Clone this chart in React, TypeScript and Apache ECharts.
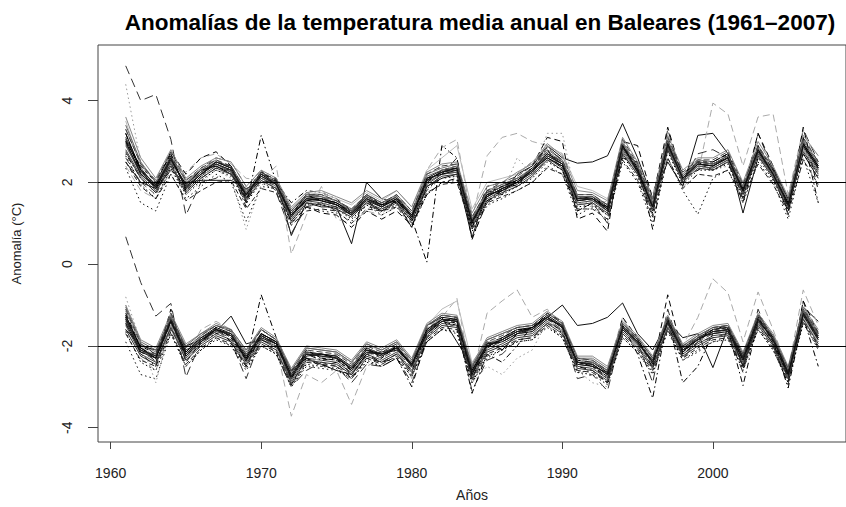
import React, { useEffect, useRef } from 'react';
import * as echarts from 'echarts';

const YEARS = [
  1961, 1962, 1963, 1964, 1965, 1966, 1967, 1968, 1969, 1970,
  1971, 1972, 1973, 1974, 1975, 1976, 1977, 1978, 1979, 1980,
  1981, 1982, 1983, 1984, 1985, 1986, 1987, 1988, 1989, 1990,
  1991, 1992, 1993, 1994, 1995, 1996, 1997, 1998, 1999, 2000,
  2001, 2002, 2003, 2004, 2005, 2006, 2007,
];

// Upper group (series plotted around +2)
const T1 = [3.05,2.3,1.95,2.6,1.9,2.25,2.5,2.35,1.75,2.2, 2.0,1.25,1.65,1.6,1.5,1.3,1.65,1.45,1.65,1.2, 2.1,2.3,2.35,1.1,1.7,1.9,2.05,2.3,2.7,2.5, 1.65,1.65,1.4,2.9,2.35,1.45,2.95,2.15,2.5,2.45, 2.65,1.85,2.8,2.25,1.5,2.95,2.4];
const T2 = [2.8,2.15,1.8,2.45,1.8,2.15,2.4,2.25,1.6,2.1, 1.9,1.1,1.55,1.5,1.4,1.2,1.5,1.35,1.55,1.1, 1.95,2.2,2.25,0.95,1.6,1.8,1.95,2.2,2.6,2.35, 1.5,1.55,1.3,2.75,2.25,1.35,2.85,2.05,2.4,2.35, 2.55,1.75,2.7,2.15,1.4,2.8,2.25];
const T3 = [3.3,2.45,2.0,2.7,2.0,2.3,2.5,2.4,1.8,2.25, 2.05,1.35,1.7,1.7,1.55,1.35,1.7,1.5,1.7,1.3, 2.2,2.35,2.45,1.15,1.8,1.95,2.1,2.35,2.8,2.55, 1.7,1.7,1.45,3.0,2.4,1.5,3.05,2.2,2.55,2.5, 2.7,1.9,2.9,2.3,1.55,3.05,2.5];
const T4 = [2.5,2.0,1.85,2.3,2.0,2.05,2.05,2.05,1.85,2.0, 2.05,0.7,1.5,1.4,1.4,0.5,2.0,1.6,1.5,0.9, 1.9,2.1,2.2,0.65,1.8,1.7,2.2,2.4,2.9,2.6, 2.47,2.5,2.65,3.44,2.6,1.6,2.5,1.9,3.15,3.2, 2.7,1.25,2.6,2.35,1.6,2.7,2.1];
const T5 = [4.85,4.0,4.15,3.05,1.2,2.0,2.1,2.4,1.55,2.3, 1.75,0.75,1.4,1.5,1.3,1.25,1.4,1.35,1.5,1.2, 1.8,2.2,2.6,0.65,1.5,1.85,2.05,2.3,2.9,2.5, 1.3,1.5,1.0,2.7,2.2,1.2,3.3,2.0,2.7,2.8, 2.6,1.6,3.2,2.3,1.2,3.3,2.5];
const T6 = [2.4,1.8,1.6,2.3,2.25,2.6,2.7,2.45,2.1,2.05, 2.4,0.25,1.2,1.9,1.1,1.0,1.3,1.2,1.4,1.2, 2.3,2.85,3.05,1.1,2.65,3.1,3.2,3.0,2.9,2.7, 1.5,1.4,1.55,3.0,2.3,1.7,3.1,1.9,2.2,3.94, 3.67,2.4,3.6,3.67,1.7,3.3,2.3];
const T7 = [2.35,1.5,1.3,2.2,1.6,1.9,2.2,2.0,1.05,1.9, 1.85,1.0,1.4,1.3,1.25,1.05,1.45,1.2,1.4,0.9, 1.7,2.0,2.05,0.8,1.45,1.6,1.8,2.0,2.4,2.2, 1.2,1.4,1.05,2.5,2.0,1.0,2.6,1.8,1.22,2.1, 2.3,1.5,2.5,2.0,1.1,2.6,1.5];
const T8 = [2.7,2.1,1.75,2.5,1.75,2.1,2.35,2.3,1.4,3.15, 2.0,1.5,1.8,1.75,1.6,1.3,1.55,1.3,1.55,1.1, 0.05,2.9,2.6,0.6,1.55,1.8,2.2,2.5,2.8,2.3, 1.3,1.5,1.2,2.6,2.5,0.85,3.0,2.2,2.5,2.3, 2.5,1.5,2.9,2.1,1.3,3.1,1.5];
const T9 = [3.2,2.2,1.95,2.75,2.2,2.6,2.75,2.4,1.5,2.2, 2.1,1.0,1.4,1.25,1.2,0.9,1.3,1.1,1.3,0.95, 1.7,2.0,2.1,0.9,1.9,2.0,1.9,2.4,3.1,3.0, 1.1,1.25,0.8,3.0,2.9,1.6,3.35,2.1,2.3,2.5, 2.7,1.75,3.2,2.4,1.35,3.35,1.8];
const T10 = [3.5,2.4,2.05,2.5,1.95,2.2,2.3,2.2,1.7,2.0, 1.9,1.3,1.7,1.75,1.6,1.45,1.75,1.55,1.8,1.4, 2.3,2.6,2.9,1.35,2.0,2.1,2.2,2.5,2.9,2.7, 1.9,1.8,1.6,2.8,2.2,1.4,2.75,2.2,2.4,2.45, 2.5,2.0,2.6,2.2,1.5,2.8,2.3];
const T11 = [4.4,2.5,1.6,2.3,1.7,2.0,2.3,2.1,0.85,1.95, 1.9,1.1,1.5,1.5,1.35,1.15,1.5,1.25,1.45,1.05, 1.8,2.1,2.15,0.95,1.4,1.7,2.6,2.2,3.2,3.2, 1.5,1.5,1.3,2.7,2.1,1.3,2.8,2.0,2.4,2.3, 2.4,1.7,2.7,2.1,1.45,2.8,2.2];
const T12 = [2.6,2.0,1.7,2.4,1.85,2.35,2.6,2.5,1.9,2.3, 1.85,1.15,1.75,1.65,1.5,1.3,1.55,1.45,1.7,1.15, 2.0,2.3,2.3,1.0,1.7,1.9,2.1,2.2,2.55,2.4, 1.55,1.6,1.3,2.9,2.4,1.45,2.9,2.05,2.45,2.4, 2.6,1.75,2.8,2.25,1.45,2.9,2.45];
const T13 = [3.1,2.35,1.9,2.65,1.85,2.2,2.45,2.3,1.65,2.15, 1.95,1.15,1.6,1.55,1.45,1.2,1.6,1.4,1.6,1.15, 2.05,2.25,2.35,1.0,1.65,1.85,2.0,2.25,2.65,2.45, 1.55,1.6,1.3,2.85,2.3,1.4,2.9,2.1,2.45,2.4, 2.6,1.8,2.75,2.2,1.45,2.9,2.35];
const T14 = [2.9,2.2,1.85,2.5,1.95,2.25,2.45,2.25,1.7,2.1, 1.95,1.25,1.65,1.65,1.45,1.25,1.65,1.45,1.6,1.2, 2.0,2.2,2.25,1.1,1.7,1.9,2.0,2.3,2.6,2.4, 1.65,1.55,1.4,2.8,2.25,1.45,2.85,2.1,2.4,2.35, 2.55,1.85,2.7,2.15,1.5,2.85,2.3];
const T15 = [3.6,2.6,2.1,2.8,2.1,2.4,2.6,2.5,1.9,2.3, 2.1,1.4,1.75,1.8,1.65,1.5,1.8,1.6,1.8,1.4, 2.25,2.45,2.5,1.25,1.9,2.0,2.25,2.45,2.95,2.65, 1.8,1.75,1.55,3.1,2.5,1.6,3.15,2.3,2.6,2.6, 2.8,2.0,3.0,2.4,1.65,3.15,2.65];
const T16 = [2.5,1.9,1.6,2.2,1.55,1.8,2.0,2.05,1.35,1.85, 1.75,0.95,1.3,1.35,1.3,1.0,1.35,1.3,1.4,1.0, 1.75,1.95,2.0,0.85,1.5,1.65,1.8,2.0,2.35,2.2, 1.35,1.35,1.1,2.55,2.05,1.15,2.6,1.85,2.2,2.15, 2.3,1.6,2.45,1.95,1.25,2.55,1.95];
const T17 = [3.2,2.3,1.85,2.55,1.95,2.3,2.4,2.2,1.7,2.2, 2.0,1.2,1.55,1.6,1.5,1.25,1.6,1.45,1.55,1.2, 2.1,2.2,2.3,1.05,1.7,1.8,2.0,2.3,2.6,2.4, 1.6,1.65,1.35,2.9,2.25,1.4,2.95,2.15,2.5,2.45, 2.6,1.8,2.8,2.2,1.5,2.95,2.4];
const T18 = [2.75,2.1,1.75,2.4,1.75,2.1,2.35,2.2,1.55,2.05, 1.85,1.05,1.5,1.45,1.35,1.15,1.5,1.3,1.5,1.05, 1.9,2.15,2.2,0.9,1.55,1.75,1.9,2.15,2.55,2.3, 1.45,1.5,1.25,2.7,2.2,1.3,2.8,2.0,2.35,2.3, 2.5,1.7,2.65,2.1,1.35,2.75,2.2];
const T19 = [3.0,2.4,2.0,2.7,1.8,2.15,2.5,2.4,1.6,2.25, 2.0,1.2,1.7,1.55,1.45,1.3,1.7,1.45,1.65,1.15, 2.0,2.3,2.4,1.0,1.75,1.9,2.05,2.35,2.75,2.5, 1.6,1.6,1.4,2.95,2.35,1.5,3.0,2.1,2.5,2.5, 2.7,1.85,2.85,2.3,1.45,3.0,2.45];
const T20 = [2.95,2.25,1.9,2.55,1.9,2.2,2.45,2.3,1.7,2.15, 1.95,1.2,1.6,1.6,1.45,1.25,1.6,1.4,1.6,1.15, 2.05,2.25,2.3,1.05,1.65,1.85,2.0,2.25,2.65,2.45, 1.6,1.6,1.35,2.85,2.3,1.4,2.9,2.1,2.45,2.4, 2.6,1.8,2.75,2.2,1.45,2.9,2.35];
const T21 = [3.4,2.5,2.0,2.6,2.05,2.3,2.55,2.35,1.75,2.2, 2.0,1.3,1.7,1.65,1.55,1.3,1.7,1.5,1.65,1.25, 2.15,2.3,2.4,1.1,1.75,1.95,2.1,2.3,2.75,2.5, 1.65,1.65,1.45,2.95,2.4,1.5,3.0,2.15,2.5,2.45, 2.65,1.9,2.85,2.25,1.55,3.0,2.45];
const T22 = [2.65,1.95,1.6,2.35,1.7,2.05,2.3,2.15,1.5,2.0, 1.8,1.05,1.45,1.45,1.35,1.1,1.45,1.3,1.45,1.05, 1.85,2.1,2.15,0.9,1.55,1.7,1.9,2.1,2.5,2.3, 1.4,1.45,1.2,2.65,2.15,1.25,2.75,1.95,2.3,2.3, 2.45,1.65,2.6,2.05,1.3,2.7,2.15];
const T23 = [3.0,2.2,1.9,2.6,1.85,2.2,2.5,2.35,1.7,2.2, 1.95,1.2,1.6,1.55,1.45,1.2,1.55,1.4,1.6,1.15, 2.05,2.25,2.35,1.05,1.65,1.85,2.0,2.3,2.7,2.45, 1.55,1.6,1.35,2.9,2.3,1.4,2.95,2.1,2.45,2.4, 2.6,1.8,2.8,2.2,1.45,2.9,2.35];
const T24 = [3.3,2.45,2.05,2.75,2.05,2.35,2.55,2.4,1.8,2.25, 2.05,1.3,1.7,1.7,1.55,1.35,1.7,1.5,1.7,1.3, 2.2,2.4,2.45,1.15,1.8,2.0,2.15,2.4,2.85,2.55, 1.7,1.7,1.45,3.05,2.45,1.55,3.1,2.25,2.55,2.55, 2.75,1.95,2.9,2.35,1.55,3.1,2.5];

// Lower group (series plotted around -2)
const B1 = [-1.3,-2.05,-2.25,-1.35,-2.15,-1.8,-1.55,-1.7,-2.25,-1.7, -1.9,-2.7,-2.15,-2.2,-2.25,-2.5,-2.05,-2.2,-2.0,-2.45, -1.6,-1.3,-1.35,-2.6,-1.95,-1.8,-1.6,-1.55,-1.25,-1.5, -2.35,-2.4,-2.65,-1.5,-1.85,-2.35,-1.35,-2.05,-1.8,-1.6, -1.55,-2.25,-1.3,-1.8,-2.6,-1.15,-1.75];
const B2 = [-1.5,-2.2,-2.4,-1.5,-2.3,-1.95,-1.7,-1.85,-2.4,-1.85, -2.05,-2.85,-2.3,-2.35,-2.4,-2.65,-2.2,-2.35,-2.15,-2.6, -1.75,-1.45,-1.5,-2.75,-2.1,-1.95,-1.75,-1.7,-1.4,-1.65, -2.5,-2.55,-2.8,-1.65,-2.0,-2.5,-1.5,-2.2,-1.95,-1.75, -1.7,-2.4,-1.45,-1.95,-2.75,-1.3,-1.9];
const B3 = [-1.15,-1.95,-2.15,-1.25,-2.05,-1.75,-1.5,-1.65,-2.15,-1.6, -1.85,-2.6,-2.05,-2.1,-2.15,-2.4,-1.95,-2.1,-1.9,-2.35, -1.5,-1.25,-1.3,-2.5,-1.85,-1.7,-1.55,-1.5,-1.2,-1.45, -2.3,-2.3,-2.55,-1.45,-1.8,-2.3,-1.3,-2.0,-1.75,-1.55, -1.5,-2.2,-1.25,-1.75,-2.55,-1.1,-1.65];
const B4 = [-1.6,-2.0,-2.1,-1.6,-2.0,-1.85,-1.65,-1.27,-1.95,-1.85, -2.0,-2.6,-2.3,-2.45,-2.6,-2.7,-2.2,-2.15,-2.05,-2.4, -1.5,-1.3,-1.9,-2.5,-1.9,-2.1,-1.7,-1.55,-1.3,-1.0, -1.5,-1.45,-1.3,-0.95,-1.7,-2.1,-1.4,-1.8,-1.7,-2.53, -1.55,-2.5,-1.4,-1.95,-2.7,-1.05,-1.4];
const B5 = [0.67,-0.45,-1.27,-0.96,-2.76,-1.9,-1.6,-1.9,-2.8,-1.8, -2.2,-3.0,-2.6,-2.4,-2.5,-2.9,-2.45,-2.5,-2.3,-2.9, -1.9,-1.6,-1.45,-3.1,-2.35,-2.2,-1.85,-1.8,-1.45,-1.6, -2.8,-2.7,-3.1,-1.6,-1.9,-2.9,-1.1,-2.3,-1.9,-1.8, -1.7,-2.65,-1.1,-2.0,-2.95,-0.9,-2.1];
const B6 = [-1.0,-2.3,-2.6,-1.6,-2.3,-1.6,-1.4,-1.6,-2.5,-1.8, -2.0,-3.72,-2.7,-2.9,-2.6,-3.43,-2.5,-2.3,-2.0,-2.8, -1.6,-1.3,-0.84,-2.8,-1.2,-0.9,-0.63,-1.3,-1.1,-1.5, -2.3,-2.4,-2.6,-1.3,-2.0,-2.3,-1.3,-2.0,-1.3,-0.36, -0.7,-1.9,-0.68,-1.6,-2.6,-0.63,-1.5];
const B7 = [-1.9,-2.7,-2.81,-1.7,-2.5,-2.1,-1.8,-2.0,-2.6,-2.0, -2.2,-3.0,-2.5,-2.55,-2.6,-2.8,-2.4,-2.5,-2.3,-2.75, -1.9,-1.6,-1.7,-2.9,-2.3,-2.1,-1.9,-1.85,-1.5,-1.8, -2.65,-2.6,-2.9,-1.8,-2.15,-2.7,-1.6,-2.35,-2.15,-1.9, -1.8,-2.6,-1.6,-2.1,-2.9,-1.4,-2.1];
const B8 = [-1.3,-2.2,-2.5,-1.3,-2.1,-1.9,-1.7,-1.6,-2.4,-0.75, -1.8,-2.6,-2.2,-2.35,-2.3,-2.7,-2.2,-2.4,-2.3,-3.0, -1.8,-1.4,-1.5,-3.16,-2.2,-2.4,-2.0,-1.5,-1.3,-1.7, -2.4,-2.5,-2.8,-1.5,-2.2,-3.28,-1.3,-2.9,-2.5,-1.7, -1.6,-2.97,-1.4,-1.9,-3.03,-1.3,-2.5];
const B9 = [-1.2,-2.0,-2.4,-1.1,-2.4,-1.9,-1.55,-1.9,-2.5,-1.7, -1.95,-2.95,-2.3,-2.5,-2.4,-2.8,-2.3,-2.4,-2.2,-2.6, -1.7,-1.4,-1.3,-2.8,-2.0,-1.9,-1.7,-1.6,-1.2,-1.4, -2.5,-2.6,-2.9,-1.3,-1.8,-2.55,-0.75,-2.2,-1.9,-1.6, -1.5,-2.5,-1.2,-1.8,-2.8,-0.9,-1.7];
const B10 = [-1.1,-2.0,-2.3,-1.5,-2.2,-1.8,-1.6,-1.7,-2.2,-1.75, -1.95,-3.0,-2.4,-2.3,-2.2,-2.4,-2.0,-2.1,-1.95,-2.4, -1.5,-1.1,-0.9,-2.4,-1.9,-1.85,-1.6,-1.6,-1.35,-1.6, -2.3,-2.5,-2.7,-1.55,-1.8,-2.35,-1.5,-2.0,-1.8,-1.7, -1.6,-2.3,-1.4,-1.9,-2.6,-1.3,-1.9];
const B11 = [-0.8,-1.9,-2.9,-1.5,-2.2,-1.7,-1.55,-1.8,-2.4,-1.6, -1.9,-2.8,-2.4,-2.3,-2.35,-2.6,-2.15,-2.3,-2.1,-2.6, -1.7,-1.5,-1.5,-2.9,-2.5,-2.7,-2.3,-2.1,-1.4,-1.65, -2.6,-2.9,-3.0,-1.6,-1.95,-2.4,-1.5,-2.1,-1.9,-1.7, -1.6,-2.35,-1.35,-1.85,-2.65,-1.25,-1.85];
const B12 = [-1.45,-2.15,-2.35,-1.45,-2.25,-1.85,-1.65,-1.8,-2.35,-1.8, -2.0,-2.8,-2.2,-2.3,-2.35,-2.6,-2.15,-2.3,-2.1,-2.55, -1.7,-1.4,-1.45,-2.7,-2.05,-1.9,-1.7,-1.65,-1.35,-1.6, -2.45,-2.5,-2.75,-1.6,-1.95,-2.45,-1.45,-2.15,-1.9,-1.7, -1.65,-2.35,-1.4,-1.9,-2.7,-1.25,-1.85];
const B13 = [-1.4,-2.1,-2.3,-1.4,-2.2,-1.85,-1.6,-1.75,-2.3,-1.75, -1.95,-2.75,-2.2,-2.25,-2.3,-2.55,-2.1,-2.25,-2.05,-2.5, -1.65,-1.35,-1.4,-2.65,-2.0,-1.85,-1.65,-1.6,-1.3,-1.55, -2.4,-2.45,-2.7,-1.55,-1.9,-2.4,-1.4,-2.1,-1.85,-1.65, -1.6,-2.3,-1.35,-1.85,-2.65,-1.2,-1.8];
const B14 = [-1.25,-2.15,-2.2,-1.35,-2.1,-1.9,-1.65,-1.7,-2.2,-1.7, -1.9,-2.65,-2.15,-2.2,-2.3,-2.5,-2.05,-2.2,-2.0,-2.45, -1.65,-1.4,-1.35,-2.55,-1.95,-1.85,-1.6,-1.6,-1.3,-1.5, -2.4,-2.4,-2.6,-1.5,-1.9,-2.4,-1.35,-2.05,-1.85,-1.6, -1.55,-2.3,-1.3,-1.85,-2.6,-1.15,-1.75];
const B15 = [-1.0,-1.85,-2.05,-1.2,-1.95,-1.7,-1.45,-1.6,-2.1,-1.55, -1.8,-2.55,-2.0,-2.05,-2.1,-2.35,-1.9,-2.05,-1.85,-2.3, -1.45,-1.2,-1.25,-2.45,-1.8,-1.65,-1.5,-1.45,-1.15,-1.4, -2.25,-2.25,-2.5,-1.4,-1.75,-2.25,-1.25,-1.95,-1.7,-1.5, -1.45,-2.15,-1.2,-1.7,-2.5,-1.05,-1.6];
const B16 = [-1.7,-2.35,-2.5,-1.65,-2.45,-2.05,-1.8,-1.95,-2.5,-1.95, -2.15,-2.95,-2.4,-2.45,-2.5,-2.75,-2.3,-2.45,-2.25,-2.7, -1.85,-1.55,-1.6,-2.85,-2.2,-2.05,-1.85,-1.8,-1.5,-1.75, -2.6,-2.65,-2.9,-1.75,-2.1,-2.6,-1.6,-2.3,-2.05,-1.85, -1.8,-2.5,-1.55,-2.05,-2.85,-1.4,-2.0];
const B17 = [-1.25,-2.05,-2.3,-1.4,-2.15,-1.8,-1.6,-1.75,-2.3,-1.7, -1.9,-2.75,-2.2,-2.2,-2.3,-2.55,-2.1,-2.2,-2.05,-2.45, -1.6,-1.35,-1.4,-2.6,-2.0,-1.85,-1.65,-1.55,-1.3,-1.55, -2.4,-2.45,-2.7,-1.55,-1.9,-2.4,-1.4,-2.1,-1.85,-1.65, -1.6,-2.3,-1.35,-1.85,-2.65,-1.2,-1.8];
const B18 = [-1.6,-2.25,-2.45,-1.55,-2.35,-2.0,-1.75,-1.9,-2.45,-1.9, -2.1,-2.9,-2.35,-2.4,-2.45,-2.7,-2.25,-2.4,-2.2,-2.65, -1.8,-1.5,-1.55,-2.8,-2.15,-2.0,-1.8,-1.75,-1.45,-1.7, -2.55,-2.6,-2.85,-1.7,-2.05,-2.55,-1.55,-2.25,-2.0,-1.8, -1.75,-2.45,-1.5,-2.0,-2.8,-1.35,-1.95];
const B19 = [-1.35,-2.0,-2.2,-1.3,-2.25,-1.9,-1.55,-1.8,-2.35,-1.75, -1.95,-2.8,-2.1,-2.3,-2.35,-2.6,-2.05,-2.3,-2.0,-2.5, -1.7,-1.35,-1.45,-2.7,-2.05,-1.8,-1.6,-1.6,-1.3,-1.55, -2.4,-2.5,-2.75,-1.5,-1.85,-2.45,-1.35,-2.15,-1.85,-1.6, -1.55,-2.35,-1.3,-1.9,-2.7,-1.2,-1.8];
const B20 = [-1.35,-2.1,-2.25,-1.35,-2.2,-1.85,-1.6,-1.75,-2.25,-1.75, -1.95,-2.75,-2.2,-2.25,-2.3,-2.55,-2.1,-2.25,-2.05,-2.5, -1.65,-1.35,-1.4,-2.65,-2.0,-1.85,-1.65,-1.6,-1.3,-1.55, -2.4,-2.45,-2.7,-1.55,-1.9,-2.4,-1.4,-2.1,-1.85,-1.65, -1.6,-2.3,-1.35,-1.85,-2.65,-1.2,-1.8];
const B21 = [-1.05,-1.9,-2.1,-1.3,-2.0,-1.7,-1.5,-1.6,-2.1,-1.6, -1.85,-2.6,-2.05,-2.1,-2.15,-2.4,-1.95,-2.1,-1.9,-2.35, -1.5,-1.25,-1.3,-2.5,-1.85,-1.7,-1.55,-1.5,-1.2,-1.45, -2.3,-2.35,-2.6,-1.45,-1.8,-2.3,-1.3,-2.0,-1.75,-1.55, -1.5,-2.2,-1.25,-1.75,-2.55,-1.1,-1.7];
const B22 = [-1.65,-2.4,-2.6,-1.7,-2.5,-2.1,-1.85,-2.0,-2.55,-2.0, -2.2,-3.0,-2.45,-2.5,-2.55,-2.8,-2.35,-2.5,-2.3,-2.75, -1.9,-1.6,-1.65,-2.9,-2.25,-2.1,-1.9,-1.85,-1.55,-1.8, -2.65,-2.7,-2.95,-1.8,-2.15,-2.65,-1.65,-2.35,-2.1,-1.9, -1.85,-2.55,-1.6,-2.1,-2.9,-1.45,-2.05];
const B23 = [-1.45,-2.15,-2.3,-1.4,-2.25,-1.9,-1.6,-1.7,-2.35,-1.8, -1.95,-2.8,-2.25,-2.2,-2.25,-2.6,-2.15,-2.2,-2.1,-2.45, -1.7,-1.4,-1.35,-2.7,-1.95,-1.9,-1.7,-1.65,-1.35,-1.5, -2.45,-2.5,-2.65,-1.6,-1.95,-2.35,-1.45,-2.15,-1.8,-1.7, -1.65,-2.35,-1.4,-1.8,-2.7,-1.25,-1.85];
const B24 = [-1.1,-1.95,-2.2,-1.2,-2.1,-1.75,-1.5,-1.65,-2.2,-1.6, -1.85,-2.65,-2.1,-2.15,-2.2,-2.45,-2.0,-2.15,-1.95,-2.4, -1.55,-1.25,-1.3,-2.55,-1.9,-1.75,-1.55,-1.5,-1.2,-1.45, -2.3,-2.35,-2.6,-1.45,-1.8,-2.3,-1.3,-2.0,-1.8,-1.55, -1.5,-2.2,-1.25,-1.8,-2.55,-1.1,-1.7];

const TOP_SERIES = [T1, T2, T3, T4, T5, T6, T7, T8, T9, T10, T11, T12, T13, T14, T15, T16, T17, T18, T19, T20, T21, T22, T23, T24];
const BOTTOM_SERIES = [B1, B2, B3, B4, B5, B6, B7, B8, B9, B10, B11, B12, B13, B14, B15, B16, B17, B18, B19, B20, B21, B22, B23, B24];

const REF_LINES = [2, -2];
const X_TICKS = [1960, 1970, 1980, 1990, 2000];
const Y_TICKS = [-4, -2, 0, 2, 4];

const TITLE = 'Anomalías de la temperatura media anual en Baleares (1961–2007)';
const X_NAME = 'Años';
const Y_NAME = 'Anomalía (°C)';

// line styles (one per station index)
const STYLES: { color: string; type: any }[] = [
  { color: '#000000', type: 'solid' },
  { color: '#444444', type: 'solid' },
  { color: '#777777', type: 'solid' },
  { color: '#111111', type: 'solid' },
  { color: '#333333', type: [9, 5] },
  { color: '#aaaaaa', type: [7, 4] },
  { color: '#111111', type: [1.5, 3] },
  { color: '#000000', type: [1.5, 3, 6, 3] },
  { color: '#000000', type: [6, 4] },
  { color: '#bbbbbb', type: 'solid' },
  { color: '#999999', type: [1.5, 3] },
  { color: '#555555', type: [6, 4] },
  { color: '#222222', type: 'solid' },
  { color: '#555555', type: 'solid' },
  { color: '#888888', type: 'solid' },
  { color: '#222222', type: [5, 3] },
  { color: '#000000', type: 'solid' },
  { color: '#333333', type: 'solid' },
  { color: '#000000', type: [4, 3] },
  { color: '#222222', type: 'solid' },
  { color: '#666666', type: 'solid' },
  { color: '#000000', type: [1.5, 2.5] },
  { color: '#111111', type: 'solid' },
  { color: '#444444', type: [6, 3] },
];

const FONT = "'Liberation Sans', Arial, Helvetica, sans-serif";

export default function App() {
  const ref = useRef<HTMLDivElement>(null);
  useEffect(() => {
    document.body.style.margin = '0';
    if (!ref.current) return;
    const chart = echarts.init(ref.current, undefined, { renderer: 'svg' });

    const mk = (arr: number[], i: number, g: string) => ({
      type: 'line',
      name: g + (i + 1),
      data: YEARS.map((y, k) => [y, arr[k]]),
      showSymbol: false,
      symbol: 'none',
      lineStyle: { width: 1, color: STYLES[i].color, type: STYLES[i].type },
      silent: true,
      z: 2,
    });

    const series: any[] = [];
    TOP_SERIES.forEach((a, i) => series.push(mk(a, i, 'T')));
    BOTTOM_SERIES.forEach((a, i) => series.push(mk(a, i, 'B')));
    series.push({
      type: 'line',
      data: [],
      silent: true,
      markLine: {
        symbol: ['none', 'none'],
        silent: true,
        label: { show: false },
        lineStyle: { color: '#000', width: 1, type: 'solid' },
        data: REF_LINES.map((v) => ({ yAxis: v })),
      },
      z: 3,
    });

    chart.setOption({
      animation: false,
      backgroundColor: '#ffffff',
      title: {
        text: TITLE,
        left: 475,
        top: 6,
        textAlign: 'center',
        textStyle: { fontFamily: FONT, fontWeight: 'bold', fontSize: 22.5, color: '#000' },
      },
      grid: {
        left: 98,
        top: 45,
        right: -5,
        bottom: 52,
        show: true,
        borderColor: '#444',
        borderWidth: 1,
        backgroundColor: 'transparent',
      },
      xAxis: {
        type: 'value',
        min: 1959.16,
        max: 2008.84,
        name: X_NAME,
        nameLocation: 'middle',
        nameGap: 46,
        nameTextStyle: { fontFamily: FONT, fontSize: 14, color: '#222' },
        axisLine: { show: false, onZero: false },
        splitLine: { show: false },
        axisTick: { show: true, customValues: X_TICKS, length: 7, lineStyle: { color: '#444' } },
        axisLabel: {
          customValues: X_TICKS,
          margin: 24,
          fontFamily: FONT,
          fontSize: 14,
          color: '#222',
          formatter: (v: number) => String(v),
        },
      },
      yAxis: {
        type: 'value',
        min: -4.35,
        max: 5.36,
        name: Y_NAME,
        nameLocation: 'middle',
        nameGap: 75,
        nameTextStyle: { fontFamily: FONT, fontSize: 13, color: '#222' },
        axisLine: { show: false, onZero: false },
        splitLine: { show: false },
        axisTick: { show: true, customValues: Y_TICKS, length: 10, lineStyle: { color: '#444' } },
        axisLabel: {
          customValues: Y_TICKS,
          rotate: 90,
          margin: 24,
          fontFamily: FONT,
          fontSize: 14,
          color: '#222',
          formatter: (v: number) => String(v),
        },
      },
      series,
    });
    return () => chart.dispose();
  }, []);
  return <div ref={ref} style={{ width: 846, height: 507 }} />;
}
